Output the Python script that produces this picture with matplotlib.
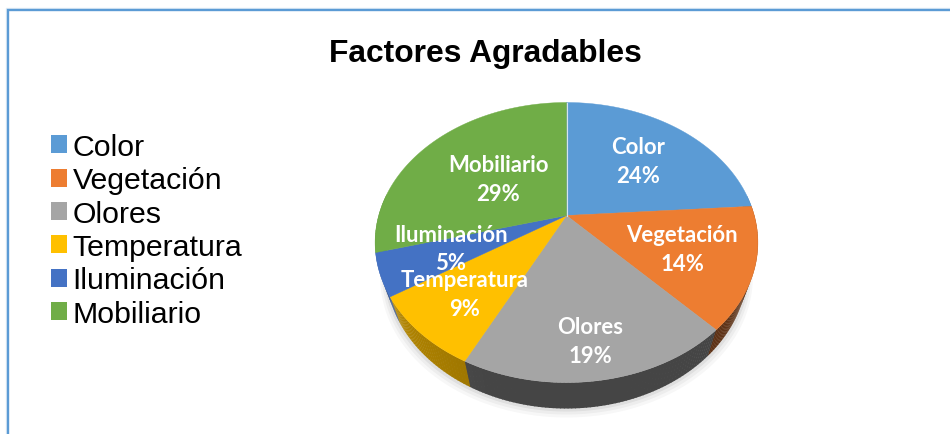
import numpy as np
import matplotlib
matplotlib.use("Agg")
import matplotlib.pyplot as plt
from matplotlib.patches import Patch

categories = ["Color", "Vegetación", "Olores", "Temperatura", "Iluminación", "Mobiliario"]
values = [23.9, 14.1, 19.4, 8.51, 4.89, 29.2]
colors = ["#5B9BD5", "#ED7D31", "#A5A5A5", "#FFC000", "#4472C4", "#70AD47"]
side_colors = ["#3A5F82", "#5E3216", "#454545", "#9A7300", "#2A4577", "#44692B"]
label_pos = [(638, 162), (682, 250), (590, 342), (465, 295), (451, 249.5), (498, 180)]
title = "Factores Agradables"

CX, CY = 566.5, 216.5
K, B, A = 0.193, 134.8, 187.8
DEPTH = 26
RIM_SCALE = 0.945

def project(theta):
    u, v = np.sin(theta), np.cos(theta)
    w = 1 + K * v
    return A * u / w, B * v / w

def top_xy(theta):
    x, y = project(theta)
    return CX + x, CY - y

def rim_xy(theta, extra=0.0, grow=1.0):
    x, y = project(theta)
    return CX + RIM_SCALE * grow * x, CY - y + DEPTH + extra

def shade(c, f):
    rgb = np.array(matplotlib.colors.to_rgb(c))
    return tuple(np.clip(rgb * f, 0, 1))

fig = plt.figure(figsize=(9.5, 4.35), dpi=100, facecolor="white")
ax = fig.add_axes([0, 0, 1, 1])
ax.set_xlim(0, 950)
ax.set_ylim(435, 0)
ax.axis("off")

# chart frame
ax.plot([6.3, 6.3, 950], [435, 9, 9], color="#E3EDF6", lw=1.0, zorder=0.9)
ax.plot([8, 8, 950], [435, 10.7, 10.7], color="#5B9BD5", lw=1.7, solid_joinstyle="miter", zorder=1)

# soft shadow under the pie
ts = np.linspace(0, 2 * np.pi, 240)
for extra, grow, alpha in [(9, 1.03, 0.03), (6, 1.02, 0.04), (3, 1.01, 0.06)]:
    x, y = rim_xy(ts, extra, grow)
    ax.fill(x, y, color="black", alpha=alpha, lw=0, zorder=2)

# walls then top faces, from the values
edges = np.cumsum([0] + values) / sum(values) * 2 * np.pi
for i in range(len(values)):
    t0, t1 = edges[i], edges[i + 1]
    steps = np.linspace(t0, t1, max(3, int((t1 - t0) * 60)))
    for a, b in zip(steps[:-1], steps[1:]):
        mid = (a + b) / 2
        if np.cos(mid) > 0.15:
            continue
        s = np.array([a, b + 0.004])
        xt, yt = top_xy(s)
        xb, yb = rim_xy(s)
        # lighter toward the left end of the wall
        f = 1.0 + 0.22 * np.clip((-np.sin(mid) - 0.35) / 0.65, 0, 1)
        ax.fill([xt[0], xt[1], xb[1], xb[0]], [yt[0], yt[1], yb[1], yb[0]],
                color=shade(side_colors[i], f), lw=0, zorder=3)

for i in range(len(values)):
    s = np.linspace(edges[i], edges[i + 1], 200)
    x, y = top_xy(s)
    ax.fill(np.r_[CX, x], np.r_[CY, y], facecolor=colors[i], edgecolor=colors[i],
            lw=0.3, zorder=4 + i * 0.01)
x0, y0 = top_xy(np.array([0.0]))
ax.plot([CX, x0[0]], [CY, y0[0]], color="#D5E3F0", lw=0.8, zorder=4.5)

# data labels
for name, val, (lx, ly) in zip(categories, values, label_pos):
    ax.text(lx, ly, f"{name}\n{val:.0f}%", color="white", ha="center", va="center",
            family="Lato", weight="bold", fontsize=15.9, linespacing=1.45, zorder=6)

ax.text(485.5, 54, title, ha="center", va="center", family="Liberation Sans",
        weight="bold", fontsize=22.9, color="black", zorder=6)

handles = [Patch(facecolor=c, edgecolor="none") for c in colors]
leg = ax.legend(handles, categories, loc="upper left", bbox_to_anchor=(42 / 950, 1 - 125 / 435),
                frameon=False, prop={"family": "Liberation Sans", "size": 21.8},
                handlelength=0.53, handleheight=0.53, handletextpad=0.18, labelspacing=0.176,
                borderpad=0.3, borderaxespad=0)
leg.set_zorder(6)

fig.savefig("out.png", dpi=100, facecolor="white")
